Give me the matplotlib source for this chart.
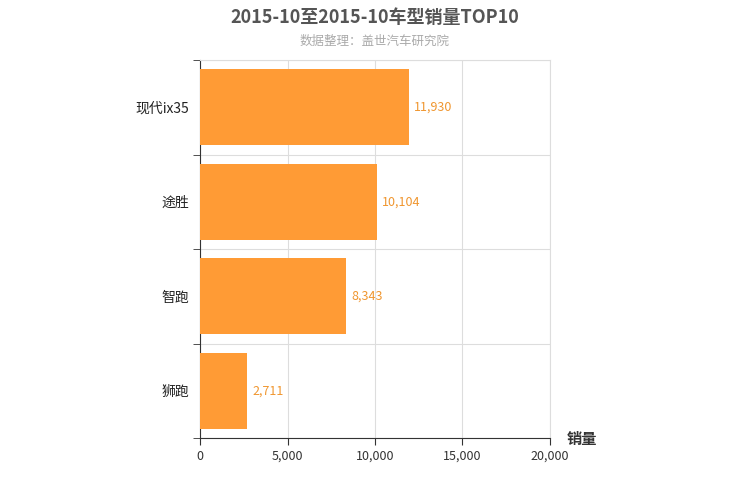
import matplotlib.pyplot as plt
from matplotlib.ticker import FixedLocator

plt.rcParams['font.family'] = ['Noto Sans CJK SC', 'DejaVu Sans']

models = ['现代ix35', '途胜', '智跑', '狮跑']
sales = [11930, 10104, 8343, 2711]
xticks = [0, 5000, 10000, 15000, 20000]

fig = plt.figure(figsize=(7.5, 5), dpi=100)
ax = fig.add_axes([0.2667, 0.124, 0.4666, 0.756])

ypos = list(range(len(models)))[::-1]
ax.barh(ypos, sales, height=0.8, color='#ff9b35', zorder=3)
for y, v in zip(ypos, sales):
    ax.text(v + 300, y, f'{v:,}', va='center', ha='left', fontsize=9, color='#f0962f')

ax.set_xlim(0, 20000)
ax.set_ylim(-0.5, len(models) - 0.5)
ax.set_xticks(xticks)
ax.set_xticklabels([f'{t:,}' for t in xticks], fontsize=9, color='#333333')
ax.set_yticks(ypos)
ax.set_yticklabels(models, fontsize=10, color='#222222')
ax.tick_params(axis='y', which='major', length=0, pad=8)
ax.yaxis.set_minor_locator(FixedLocator([i - 0.5 for i in range(len(models) + 1)]))
ax.tick_params(axis='y', which='minor', length=5, color='#333333')
ax.tick_params(axis='x', length=5, color='#333333')
ax.grid(True, which='minor', axis='y', color='#dddddd', zorder=0)
ax.grid(True, which='major', axis='x', color='#dddddd', zorder=0)
for s in ['top', 'right']:
    ax.spines[s].set_color('#dddddd')
for s in ['left', 'bottom']:
    ax.spines[s].set_color('#333333')

fig.text(0.5, 0.965, '2015-10至2015-10车型销量TOP10', ha='center', va='center',
         fontsize=13, fontweight='bold', color='#555555')
fig.text(0.5, 0.918, '数据整理：盖世汽车研究院', ha='center', va='center',
         fontsize=9, color='#aaaaaa')
fig.text(0.755, 0.122, '销量', ha='left', va='center', fontsize=11,
         fontweight='bold', color='#333333')

fig.savefig('out.png', dpi=100)
